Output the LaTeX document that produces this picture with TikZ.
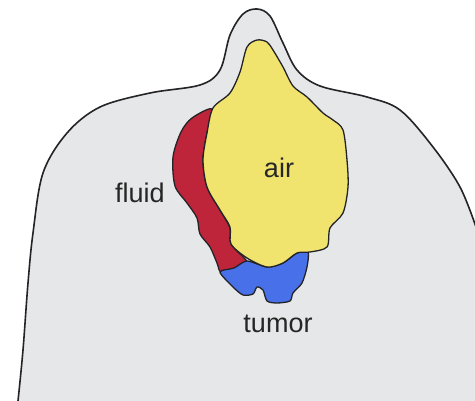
\documentclass[tikz,border=0pt]{standalone}
\usepackage{fontspec}
\setmainfont{Liberation Sans}
\definecolor{tissue}{RGB}{230,231,232}
\definecolor{airc}{RGB}{241,228,110}
\definecolor{fluidc}{RGB}{190,36,58}
\definecolor{tumorc}{RGB}{72,112,232}
\definecolor{edge}{RGB}{35,35,40}
\tikzset{
  outline/.style={draw=edge,line width=1.6pt,line join=round},
  region/.style={draw=edge,line width=1.3pt,line join=round},
  label/.style={font=\fontsize{27}{30}\selectfont,text=black!85,inner sep=0pt}
}
\begin{document}
\begin{tikzpicture}[x=1pt,y=-1pt]
\useasboundingbox (0,0) rectangle (475,401);
\fill[white] (0,0) rectangle (475,401);
% body contour, open towards the bottom and right edges
\fill[tissue] plot[smooth,tension=0.55] coordinates {
  (18,401) (23,350) (28,283) (33,233) (43,173) (67,133) (100,107)
  (150,93) (200,85) (220,70) (230,35) (243,14) (257,9) (270,16)
  (283,43) (297,70) (320,86) (367,97) (400,110) (433,147) (460,187) (476,227)}
  -- (476,402) -- (18,402) -- cycle;
\draw[outline] plot[smooth,tension=0.55] coordinates {
  (18,401) (23,350) (28,283) (33,233) (43,173) (67,133) (100,107)
  (150,93) (200,85) (220,70) (230,35) (243,14) (257,9) (270,16)
  (283,43) (297,70) (320,86) (367,97) (400,110) (433,147) (460,187) (476,227)};
% fluid layer
\filldraw[region,fill=fluidc] plot[smooth cycle,tension=0.5] coordinates {
  (212,109) (192,118) (181,132) (173,157) (175,186) (187,203) (197,218)
  (200,234) (210,247) (217,263) (221,272) (235,268) (247,262)
  (231,244) (230,228) (220,210) (207,187) (203,160) (207,133)};
% tumor
\filldraw[region,fill=tumorc] plot[smooth cycle,tension=0.45] coordinates {
  (220,272) (233,287) (243,295) (253,294) (257,287) (263,290) (267,301)
  (277,303) (290,301) (293,293) (302,283) (307,267) (308,252)
  (297,253) (283,263) (267,267) (247,261) (234,268)};
% air pocket
\filldraw[region,fill=airc] plot[smooth cycle,tension=0.5] coordinates {
  (257,40) (247,47) (240,72) (230,93) (213,108) (207,133) (203,160)
  (207,187) (220,210) (230,227) (231,244) (247,258) (267,267) (283,263)
  (297,253) (310,252) (327,247) (330,228) (343,213) (348,187) (347,160)
  (343,130) (333,120) (323,113) (307,97) (293,86) (283,67) (273,50) (267,42)};
\node[label] (air) at (279,168) {air};
\node[label] (fluid) at (140,193) {fluid};
\node[label] (tumor) at (278,324) {tumor};
\end{tikzpicture}
\end{document}
